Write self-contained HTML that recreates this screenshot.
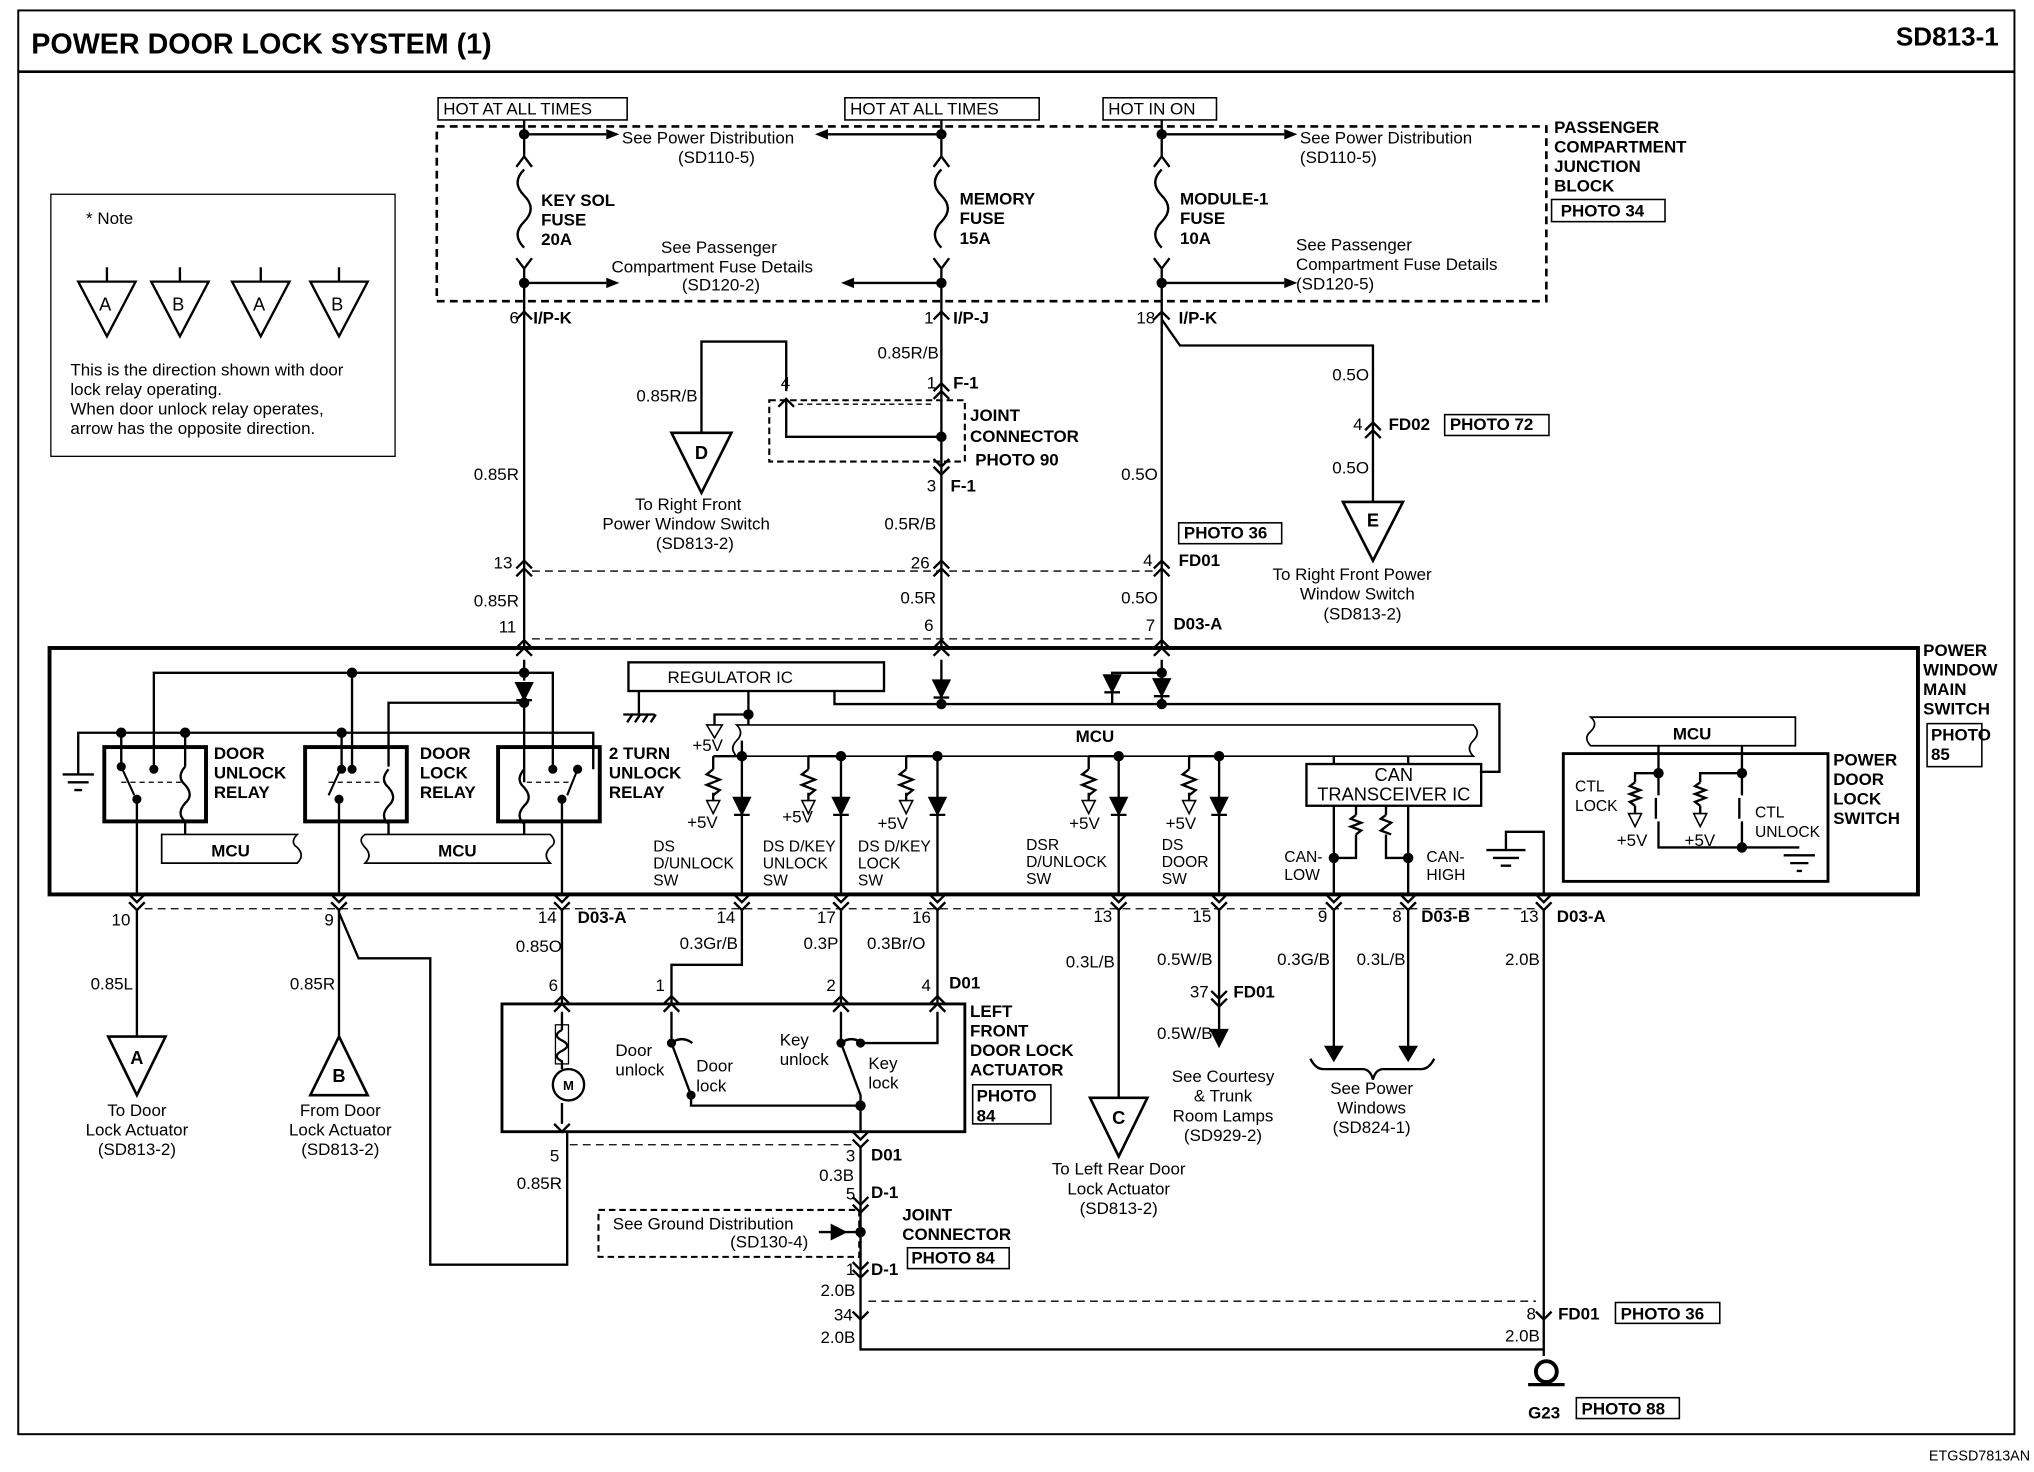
<!DOCTYPE html>
<html><head><meta charset="utf-8"><style>
html,body{margin:0;padding:0;background:#fff}
svg{display:block}
text{font-family:"Liberation Sans",sans-serif;fill:#000}
.b{font-weight:bold}
</style></head><body>
<svg width="2034" height="1472" viewBox="0 0 1560 1129" preserveAspectRatio="none" xmlns="http://www.w3.org/2000/svg">
<g fill="none" stroke="#000" stroke-width="1.8">
<rect x="14" y="8" width="1531" height="1092" stroke-width="1.5"/>
<line x1="14" y1="55" x2="1545" y2="55" stroke-width="2"/>
<rect x="39" y="149" width="264" height="201" stroke-width="1"/>
<polygon points="60,216 104,216 82,258"/><line x1="82" y1="205" x2="82" y2="216"/>
<polygon points="116,216 160,216 138,258"/><line x1="138" y1="205" x2="138" y2="216"/>
<polygon points="178,216 222,216 200,258"/><line x1="200" y1="205" x2="200" y2="216"/>
<polygon points="238,216 282,216 260,258"/><line x1="260" y1="205" x2="260" y2="216"/>
<rect x="335" y="97" width="851" height="134" stroke-dasharray="6,4" stroke-width="2"/>
<rect x="336" y="75" width="145" height="17" stroke-width="1.2"/>
<rect x="648" y="75" width="149" height="17" stroke-width="1.2"/>
<rect x="846" y="75" width="87" height="17" stroke-width="1.2"/>
<rect x="1190" y="153" width="87" height="17" stroke-width="1.2"/>
<line x1="402" y1="92" x2="402" y2="120"/><line x1="722" y1="92" x2="722" y2="120"/><line x1="891" y1="92" x2="891" y2="120"/>
<path d="M402,120 l-6,8 l6,-8 l6,8 M402,130 q-10,10 0,20 q10,10 0,20 q-10,10 0,20 M396,198 l6,8 l6,-8 M402,206 L402,497"/>
<path d="M722,120 l-6,8 l6,-8 l6,8 M722,130 q-10,10 0,20 q10,10 0,20 q-10,10 0,20 M716,198 l6,8 l6,-8 M722,206 L722,497"/>
<path d="M891,120 l-6,8 l6,-8 l6,8 M891,130 q-10,10 0,20 q10,10 0,20 q-10,10 0,20 M885,198 l6,8 l6,-8 M891,206 L891,497"/>
<line x1="402" y1="103" x2="465" y2="103"/><line x1="722" y1="103" x2="635" y2="103"/><line x1="891" y1="103" x2="985" y2="103"/>
<line x1="402" y1="217" x2="465" y2="217"/><line x1="722" y1="217" x2="655" y2="217"/><line x1="891" y1="217" x2="985" y2="217"/>
<path d="M396,245 l6,-6 l6,6 M716,245 l6,-6 l6,6 M885,245 l6,-6 l6,6"/>
<path d="M396,436 l6,-6 l6,6 M396,442 l6,-6 l6,6 M716,436 l6,-6 l6,6 M716,442 l6,-6 l6,6 M885,436 l6,-6 l6,6 M885,442 l6,-6 l6,6"/>
<path d="M396,497 l6,-6 l6,6 M396,503 l6,-6 l6,6 M716,497 l6,-6 l6,6 M716,503 l6,-6 l6,6 M885,497 l6,-6 l6,6 M885,503 l6,-6 l6,6"/>
<line x1="408" y1="438" x2="885" y2="438" stroke-dasharray="6,4" stroke-width="1"/>
<line x1="408" y1="490" x2="885" y2="490" stroke-dasharray="6,4" stroke-width="1"/>
<rect x="590" y="307" width="150" height="47" stroke-dasharray="5,3" stroke-width="1.6"/>
<path d="M538,332 L538,262 L603,262 L603,300 M597,312 l6,-6 l6,6 M603,306 L603,335 L722,335"/>
<path d="M716,300 l6,-6 l6,6 M716,306 l6,-6 l6,6 M716,352 l6,6 l6,-6 M716,358 l6,6 l6,-6"/>
<line x1="612" y1="310" x2="716" y2="310" stroke-dasharray="4,3" stroke-width="1"/>
<polygon points="515,332 561,332 538,378" stroke-width="2"/>
<path d="M891,245 L905,265 L1053,265 L1053,385 M1047,330 l6,-6 l6,6 M1047,336 l6,-6 l6,6"/>
<polygon points="1030,385 1076,385 1053,430" stroke-width="2"/>
<rect x="1108" y="318" width="80" height="16" stroke-width="1.2"/>
<rect x="904" y="401" width="79" height="16" stroke-width="1.2"/>
<rect x="38" y="497" width="1433" height="189" stroke-width="3"/>
<rect x="1478" y="555" width="42" height="33" stroke-width="1.2"/>
<rect x="482" y="508" width="196" height="22"/>
<path d="M490,530 L490,548 M478,548 L502,548 M481,554 l4,-6 M487,554 l4,-6 M493,554 l4,-6 M499,554 l4,-6"/>
<path d="M574,530 L574,548 L548,548 L548,556 M574,548 L574,556"/>
<polygon points="542,556 554,556 548,566" stroke-width="1.2"/>
<path d="M565,556 L1130,556 q6,6 0,12 q-6,6 0,12 L565,580 q-6,-6 0,-12 q6,-6 0,-12 Z" stroke-width="1.3"/>
<path d="M402,506 L402,522 M722,506 L722,540 M891,506 L891,540 M853,540 L853,516 L891,516 M640,530 L640,540 L1150,540 L1150,592 L1135,592"/>
<polygon points="396,524 408,524 402,536" fill="#000"/><line x1="396" y1="537" x2="408" y2="537"/>
<polygon points="716,522 728,522 722,534" fill="#000"/><line x1="716" y1="535" x2="728" y2="535"/>
<polygon points="847,518 859,518 853,530" fill="#000"/><line x1="847" y1="531" x2="859" y2="531"/>
<polygon points="885,521 897,521 891,533" fill="#000"/><line x1="885" y1="534" x2="897" y2="534"/>
<rect x="80" y="573" width="78" height="57" stroke-width="3"/>
<rect x="234" y="573" width="78" height="57" stroke-width="3"/>
<rect x="382" y="573" width="78" height="57" stroke-width="3"/>
<path d="M118,588 L118,516 L424,516 L424,588 M270,516 L270,588 M402,536 L402,600"/>
<path d="M60,594 L60,562 L455,562 L455,590 M93,562 L93,588 M142,562 L142,588 M262,562 L262,588"/>
<path d="M298,588 L298,539 L402,539"/>
<path d="M48,594 L72,594 M52,600 L68,600 M57,606 L63,606"/>
<path d="M142,588 q-7,8 0,14 q7,8 0,14 q-7,8 0,14 L142,640"/>
<path d="M298,590 q-7,8 0,14 q7,8 0,14 q-7,8 0,14 L298,640"/>
<path d="M402,590 q-7,8 0,14 q7,8 0,14 q-7,8 0,14 L402,640"/>
<path d="M93,588 L103,610 M262,588 L252,610 M443,590 L435,610" stroke-width="1.6"/>
<path d="M93,600 L140,600 M252,600 L296,600 M404,600 L438,600" stroke-dasharray="4,3" stroke-width="1"/>
<path d="M105,613 L105,686 M260,613 L260,686 M431,613 L431,686"/>
<path d="M124,640 L228,640 q-6,6 0,10 q6,6 0,12 L124,662 Z" stroke-width="1.3"/>
<path d="M280,640 L422,640 q6,6 0,10 q-6,6 0,12 L280,662 q6,-6 0,-12 q-6,-6 0,-10 Z" stroke-width="1.3"/>
<path d="M569,568 L569,686 M547,580 L547,590 M547,590 l-5,4 l10,4 l-10,4 l10,4 l-5,4 M547,608 L547,614"/>
<path d="M645,580 L645,686 M620,580 L620,590 M620,590 l-5,4 l10,4 l-10,4 l10,4 l-5,4 M620,608 L620,614"/>
<path d="M719,580 L719,686 M695,580 L695,590 M695,590 l-5,4 l10,4 l-10,4 l10,4 l-5,4 M695,608 L695,614"/>
<path d="M858,580 L858,686 M835,580 L835,590 M835,590 l-5,4 l10,4 l-10,4 l10,4 l-5,4 M835,608 L835,614"/>
<path d="M935,580 L935,686 M912,580 L912,590 M912,590 l-5,4 l10,4 l-10,4 l10,4 l-5,4 M912,608 L912,614"/>
<path d="M547,580 L569,580 M620,580 L645,580 M695,580 L719,580 M835,580 L858,580 M912,580 L935,580"/>
<g fill="#000">
<polygon points="563,612 575,612 569,624"/><polygon points="639,612 651,612 645,624"/><polygon points="713,612 725,612 719,624"/><polygon points="852,612 864,612 858,624"/><polygon points="929,612 941,612 935,624"/>
</g>
<path d="M563,625 L575,625 M639,625 L651,625 M713,625 L725,625 M852,625 L864,625 M929,625 L941,625"/>
<g stroke-width="1.2">
<polygon points="542,614 552,614 547,624"/><polygon points="615,614 625,614 620,624"/><polygon points="690,614 700,614 695,624"/><polygon points="830,614 840,614 835,624"/><polygon points="907,614 917,614 912,624"/>
</g>
<rect x="1002" y="586" width="134" height="32"/>
<path d="M1023,580 L1023,586 M1080,580 L1080,586"/>
<path d="M1023,618 L1023,686 M1080,618 L1080,686 M1023,658 L1040,658 L1040,640 M1063,640 L1063,658 L1080,658 M1040,618 L1040,625 M1063,618 L1063,625"/>
<path d="M1040,625 l-4,3 l8,3 l-8,3 l8,3 l-4,3 M1063,625 l-4,3 l8,3 l-4,3 l-4,3 l8,3"/>
<path d="M1155,652 L1155,638 L1184,638 L1184,686 M1140,652 L1170,652 M1145,658 L1165,658 M1151,664 L1159,664"/>
<path d="M1220,550 L1377,550 L1377,572 L1220,572 q-6,-6 0,-11 q6,-6 0,-11 Z" stroke-width="1.3"/>
<rect x="1199" y="578" width="203" height="98" stroke-width="2.2"/>
<path d="M1272,572 L1272,593 L1254,593 L1254,600 M1254,600 l-4,3 l8,3 l-8,3 l8,3 l-8,3 l4,3 M1254,618 L1254,624 M1272,593 L1272,610 M1270,612 L1270,628 M1272,630 L1272,650 L1336,650 L1336,630 M1336,572 L1336,593 L1304,593 L1304,600 M1304,600 l-4,3 l8,3 l-8,3 l8,3 l-8,3 l4,3 M1304,618 L1304,624 M1336,593 L1336,610 M1334,612 L1334,628 M1336,650 L1380,650 M1368,656 L1392,656 M1373,662 L1387,662 M1378,668 L1382,668"/>
<polygon points="1249,624 1259,624 1254,634" stroke-width="1.2"/><polygon points="1299,624 1309,624 1304,634" stroke-width="1.2"/>
<line x1="111" y1="697" x2="1178" y2="697" stroke-dasharray="6,4" stroke-width="1"/>
<path d="M99,686 l6,6 l6,-6 M254,686 l6,6 l6,-6 M425,686 l6,6 l6,-6 M563,686 l6,6 l6,-6 M639,686 l6,6 l6,-6 M713,686 l6,6 l6,-6 M852,686 l6,6 l6,-6 M929,686 l6,6 l6,-6 M1017,686 l6,6 l6,-6 M1074,686 l6,6 l6,-6 M1178,686 l6,6 l6,-6"/>
<path d="M99,692 l6,6 l6,-6 M254,692 l6,6 l6,-6 M425,692 l6,6 l6,-6 M563,692 l6,6 l6,-6 M639,692 l6,6 l6,-6 M713,692 l6,6 l6,-6 M852,692 l6,6 l6,-6 M929,692 l6,6 l6,-6 M1017,692 l6,6 l6,-6 M1074,692 l6,6 l6,-6 M1178,692 l6,6 l6,-6"/>
<path d="M105,698 L105,795 M260,698 L260,795 M260,700 L275,735 L330,735 L330,970 L435,970 L435,868 M431,698 L431,770 M569,698 L569,740 L515,740 L515,770 M645,698 L645,770 M719,698 L719,770 M858,698 L858,842 M935,698 L935,800 M1023,698 L1023,805 M1080,698 L1080,805 M1184,698 L1184,1040"/>
<polygon points="83,795 127,795 105,840" stroke-width="2"/>
<polygon points="238,840 282,840 260,795" stroke-width="2"/>
<polygon points="836,842 880,842 858,887" stroke-width="2"/>
<path d="M929,760 l6,6 l6,-6 M929,766 l6,6 l6,-6"/>
<polygon points="929,790 941,790 935,802" fill="#000"/>
<polygon points="1017,803 1029,803 1023,813" fill="#000"/><polygon points="1074,803 1086,803 1080,813" fill="#000"/>
<path d="M1005,812 q4,8 10,8 L1045,820 q6,0 8,8 q2,-8 8,-8 L1090,820 q6,0 10,-8"/>
<rect x="385" y="770" width="355" height="98" stroke-width="2.2"/>
<path d="M425,770 l6,-6 l6,6 M425,776 l6,-6 l6,6 M509,770 l6,-6 l6,6 M509,776 l6,-6 l6,6 M639,770 l6,-6 l6,6 M639,776 l6,-6 l6,6 M713,770 l6,-6 l6,6 M713,776 l6,-6 l6,6"/>
<path d="M431,776 L431,790 M431,790 q-8,4 0,8 q8,4 0,8 q-8,4 0,8 L431,820 M431,846 L431,862 M425,862 l6,6 l6,-6"/>
<rect x="426" y="786" width="10" height="30" stroke-width="1"/>
<circle cx="436" cy="832" r="12"/>
<path d="M515,776 L515,800 L530,840 L530,848 L660,848 L660,868 M645,776 L645,800 L660,840 L660,848 M719,776 L719,800 L660,800 M515,800 q8,-6 16,0 M645,800 q8,-6 16,0" />
<path d="M654,868 l6,6 l6,-6 M654,874 l6,6 l6,-6"/>
<line x1="437" y1="878" x2="654" y2="878" stroke-dasharray="6,4" stroke-width="1"/>
<path d="M660,880 L660,1035 L1184,1035"/>
<rect x="459" y="928" width="200" height="36" stroke-dasharray="5,3" stroke-width="1.6"/>
<path d="M654,918 l6,6 l6,-6 M654,924 l6,6 l6,-6 M654,968 l6,6 l6,-6 M654,974 l6,6 l6,-6"/>
<polygon points="638,940 648,945 638,950" fill="#000"/><line x1="628" y1="945" x2="660" y2="945"/>
<path d="M654,1006 l6,6 l6,-6 M1178,1006 l6,6 l6,-6"/>
<line x1="666" y1="998" x2="1178" y2="998" stroke-dasharray="6,4" stroke-width="1"/>
<rect x="746" y="832" width="60" height="30" stroke-width="1.2"/>
<rect x="696" y="957" width="78" height="16" stroke-width="1.2"/>
<rect x="1239" y="999" width="80" height="16" stroke-width="1.2"/>
<rect x="1209" y="1072" width="79" height="16" stroke-width="1.2"/>
<circle cx="1186" cy="1052" r="8" stroke-width="3"/><line x1="1172" y1="1062" x2="1200" y2="1062" stroke-width="2.5"/>
</g>
<g fill="#000">
<polygon points="465,99 475,103 465,107"/><polygon points="635,99 625,103 635,107"/><polygon points="985,99 995,103 985,107"/>
<polygon points="465,213 475,217 465,221"/><polygon points="655,213 645,217 655,221"/><polygon points="985,213 995,217 985,221"/>
<circle cx="402" cy="103" r="4"/><circle cx="722" cy="103" r="4"/><circle cx="891" cy="103" r="4"/>
<circle cx="402" cy="217" r="4"/><circle cx="722" cy="217" r="4"/><circle cx="891" cy="217" r="4"/>
<circle cx="722" cy="335" r="4"/><circle cx="270" cy="516" r="4"/><circle cx="402" cy="516" r="4"/><circle cx="402" cy="539" r="4"/>
<circle cx="93" cy="562" r="4"/><circle cx="142" cy="562" r="4"/><circle cx="262" cy="562" r="4"/>
<circle cx="93" cy="588" r="3.5"/><circle cx="118" cy="590" r="3.5"/><circle cx="105" cy="613" r="3.5"/><circle cx="262" cy="590" r="3.5"/><circle cx="270" cy="590" r="3.5"/><circle cx="260" cy="613" r="3.5"/><circle cx="424" cy="590" r="3.5"/><circle cx="443" cy="590" r="3.5"/><circle cx="431" cy="613" r="3.5"/>
<circle cx="574" cy="548" r="4"/><circle cx="569" cy="580" r="4"/><circle cx="645" cy="580" r="4"/><circle cx="719" cy="580" r="4"/><circle cx="858" cy="580" r="4"/><circle cx="935" cy="580" r="4"/>
<circle cx="722" cy="540" r="4"/><circle cx="891" cy="540" r="4"/><circle cx="891" cy="516" r="4"/>
<circle cx="1023" cy="658" r="4"/><circle cx="1080" cy="658" r="4"/>
<circle cx="1272" cy="593" r="4"/><circle cx="1336" cy="593" r="4"/><circle cx="1336" cy="650" r="4"/>
<circle cx="515" cy="800" r="3.5"/><circle cx="530" cy="840" r="3.5"/><circle cx="645" cy="800" r="3.5"/><circle cx="660" cy="800" r="3.5"/><circle cx="660" cy="848" r="4"/><circle cx="660" cy="945" r="4"/>
</g>
<text x="24" y="41" class="b" font-size="22">POWER DOOR LOCK SYSTEM (1)</text>
<text x="1533" y="35" class="b" font-size="20" text-anchor="end">SD813-1</text>
<text x="1557" y="1120" font-size="11" text-anchor="end">ETGSD7813AN</text>
<text x="436" y="836" font-size="10" class="b" text-anchor="middle">M</text>
<g font-size="13">
<text x="66" y="172">* Note</text>
<text x="76" y="238" font-size="14">A</text><text x="132" y="238" font-size="14">B</text><text x="194" y="238" font-size="14">A</text><text x="254" y="238" font-size="14">B</text>
<text x="54" y="288">This is the direction shown with door</text>
<text x="54" y="303">lock relay operating.</text>
<text x="54" y="318">When door unlock relay operates,</text>
<text x="54" y="333">arrow has the opposite direction.</text>
<text x="340" y="88">HOT AT ALL TIMES</text><text x="652" y="88">HOT AT ALL TIMES</text><text x="850" y="88">HOT IN ON</text>
<text x="477" y="110">See Power Distribution</text><text x="520" y="125">(SD110-5)</text>
<text x="997" y="110">See Power Distribution</text><text x="997" y="125">(SD110-5)</text>
<text x="507" y="194">See Passenger</text><text x="469" y="209">Compartment Fuse Details</text><text x="523" y="223">(SD120-2)</text>
<text x="994" y="192">See Passenger</text><text x="994" y="207">Compartment Fuse Details</text><text x="994" y="222">(SD120-5)</text>
</g>
<g font-size="13" class="b">
<text x="415" y="158">KEY SOL</text><text x="415" y="173">FUSE</text><text x="415" y="188">20A</text>
<text x="736" y="157">MEMORY</text><text x="736" y="172">FUSE</text><text x="736" y="187">15A</text>
<text x="905" y="157">MODULE-1</text><text x="905" y="172">FUSE</text><text x="905" y="187">10A</text>
<text x="1192" y="102">PASSENGER</text><text x="1192" y="117">COMPARTMENT</text><text x="1192" y="132">JUNCTION</text><text x="1192" y="147">BLOCK</text><text x="1197" y="166">PHOTO 34</text>
<text x="409" y="248">I/P-K</text><text x="731" y="248">I/P-J</text><text x="904" y="248">I/P-K</text>
<text x="731" y="298">F-1</text><text x="729" y="377">F-1</text>
<text x="744" y="323">JOINT</text><text x="744" y="339">CONNECTOR</text><text x="748" y="357">PHOTO 90</text>
<text x="1065" y="330">FD02</text><text x="1112" y="330">PHOTO 72</text>
<text x="908" y="413">PHOTO 36</text><text x="904" y="434">FD01</text><text x="900" y="483">D03-A</text>
<text x="1475" y="503">POWER</text><text x="1475" y="518">WINDOW</text><text x="1475" y="533">MAIN</text><text x="1475" y="548">SWITCH</text><text x="1481" y="568">PHOTO</text><text x="1481" y="583">85</text>
<text x="164" y="582">DOOR</text><text x="164" y="597">UNLOCK</text><text x="164" y="612">RELAY</text>
<text x="322" y="582">DOOR</text><text x="322" y="597">LOCK</text><text x="322" y="612">RELAY</text>
<text x="467" y="582">2 TURN</text><text x="467" y="597">UNLOCK</text><text x="467" y="612">RELAY</text>
<text x="162" y="657">MCU</text><text x="336" y="657">MCU</text><text x="825" y="569">MCU</text><text x="1283" y="567">MCU</text>
<text x="1406" y="587">POWER</text><text x="1406" y="602">DOOR</text><text x="1406" y="617">LOCK</text><text x="1406" y="632">SWITCH</text>
<text x="443" y="708">D03-A</text><text x="1090" y="707">D03-B</text><text x="1194" y="707">D03-A</text>
<text x="728" y="758">D01</text><text x="668" y="890">D01</text><text x="668" y="919">D-1</text><text x="668" y="978">D-1</text>
<text x="744" y="780">LEFT</text><text x="744" y="795">FRONT</text><text x="744" y="810">DOOR LOCK</text><text x="744" y="825">ACTUATOR</text><text x="749" y="845">PHOTO</text><text x="749" y="860">84</text>
<text x="692" y="936">JOINT</text><text x="692" y="951">CONNECTOR</text><text x="699" y="969">PHOTO 84</text>
<text x="946" y="765">FD01</text><text x="1195" y="1012">FD01</text><text x="1243" y="1012">PHOTO 36</text>
<text x="1172" y="1088">G23</text><text x="1213" y="1085">PHOTO 88</text>
</g>
<g font-size="14" class="b" text-anchor="middle">
<text x="538" y="352">D</text><text x="1053" y="404">E</text><text x="105" y="816">A</text><text x="260" y="830">B</text><text x="858" y="862">C</text>
</g>
<g font-size="13">
<text x="398" y="248" text-anchor="end">6</text><text x="716" y="248" text-anchor="end">1</text><text x="886" y="248" text-anchor="end">18</text>
<text x="720" y="275" text-anchor="end">0.85R/B</text><text x="535" y="308" text-anchor="end">0.85R/B</text>
<text x="606" y="298" text-anchor="end">4</text><text x="718" y="298" text-anchor="end">1</text><text x="718" y="377" text-anchor="end">3</text>
<text x="1050" y="292" text-anchor="end">0.5O</text><text x="1045" y="330" text-anchor="end">4</text><text x="1050" y="363" text-anchor="end">0.5O</text>
<text x="398" y="368" text-anchor="end">0.85R</text><text x="888" y="368" text-anchor="end">0.5O</text><text x="718" y="406" text-anchor="end">0.5R/B</text>
<text x="487" y="391">To Right Front</text><text x="462" y="406">Power Window Switch</text><text x="503" y="421">(SD813-2)</text>
<text x="976" y="445">To Right Front Power</text><text x="997" y="460">Window Switch</text><text x="1015" y="475">(SD813-2)</text>
<text x="393" y="436" text-anchor="end">13</text><text x="713" y="436" text-anchor="end">26</text><text x="884" y="434" text-anchor="end">4</text>
<text x="398" y="465" text-anchor="end">0.85R</text><text x="718" y="463" text-anchor="end">0.5R</text><text x="888" y="463" text-anchor="end">0.5O</text>
<text x="396" y="485" text-anchor="end">11</text><text x="716" y="484" text-anchor="end">6</text><text x="886" y="484" text-anchor="end">7</text>
<text x="512" y="524">REGULATOR IC</text>
<text x="531" y="576">+5V</text>
<text x="527" y="635">+5V</text><text x="600" y="631">+5V</text><text x="673" y="636">+5V</text><text x="820" y="636">+5V</text><text x="894" y="636">+5V</text>
<text x="501" y="653" font-size="12">DS</text><text x="501" y="666" font-size="12">D/UNLOCK</text><text x="501" y="679" font-size="12">SW</text>
<text x="585" y="653" font-size="12">DS D/KEY</text><text x="585" y="666" font-size="12">UNLOCK</text><text x="585" y="679" font-size="12">SW</text>
<text x="658" y="653" font-size="12">DS D/KEY</text><text x="658" y="666" font-size="12">LOCK</text><text x="658" y="679" font-size="12">SW</text>
<text x="787" y="652" font-size="12">DSR</text><text x="787" y="665" font-size="12">D/UNLOCK</text><text x="787" y="678" font-size="12">SW</text>
<text x="891" y="652" font-size="12">DS</text><text x="891" y="665" font-size="12">DOOR</text><text x="891" y="678" font-size="12">SW</text>
<text x="1069" y="599" text-anchor="middle" font-size="14">CAN</text><text x="1069" y="614" text-anchor="middle" font-size="14">TRANSCEIVER  IC</text>
<text x="985" y="661" font-size="12">CAN-</text><text x="985" y="675" font-size="12">LOW</text><text x="1094" y="661" font-size="12">CAN-</text><text x="1094" y="675" font-size="12">HIGH</text>
<text x="1208" y="607" font-size="12">CTL</text><text x="1208" y="622" font-size="12">LOCK</text><text x="1240" y="649">+5V</text><text x="1292" y="649">+5V</text>
<text x="1346" y="627" font-size="12">CTL</text><text x="1346" y="642" font-size="12">UNLOCK</text>
<text x="100" y="710" text-anchor="end">10</text><text x="256" y="710" text-anchor="end">9</text><text x="427" y="708" text-anchor="end">14</text><text x="564" y="708" text-anchor="end">14</text><text x="641" y="708" text-anchor="end">17</text><text x="714" y="708" text-anchor="end">16</text>
<text x="853" y="707" text-anchor="end">13</text><text x="929" y="707" text-anchor="end">15</text><text x="1018" y="707" text-anchor="end">9</text><text x="1075" y="707" text-anchor="end">8</text><text x="1180" y="707" text-anchor="end">13</text>
<text x="102" y="759" text-anchor="end">0.85L</text><text x="257" y="759" text-anchor="end">0.85R</text><text x="431" y="730" text-anchor="end">0.85O</text>
<text x="566" y="728" text-anchor="end">0.3Gr/B</text><text x="643" y="728" text-anchor="end">0.3P</text><text x="665" y="728">0.3Br/O</text>
<text x="855" y="742" text-anchor="end">0.3L/B</text><text x="930" y="740" text-anchor="end">0.5W/B</text><text x="1020" y="740" text-anchor="end">0.3G/B</text><text x="1078" y="740" text-anchor="end">0.3L/B</text><text x="1181" y="740" text-anchor="end">2.0B</text>
<text x="428" y="760" text-anchor="end">6</text><text x="510" y="760" text-anchor="end">1</text><text x="641" y="760" text-anchor="end">2</text><text x="714" y="760" text-anchor="end">4</text>
<text x="927" y="765" text-anchor="end">37</text><text x="930" y="797" text-anchor="end">0.5W/B</text>
<text x="472" y="810">Door</text><text x="472" y="825">unlock</text><text x="534" y="822">Door</text><text x="534" y="837">lock</text>
<text x="598" y="802">Key</text><text x="598" y="817">unlock</text><text x="666" y="820">Key</text><text x="666" y="835">lock</text>
<text x="105" y="856" text-anchor="middle">To Door</text><text x="105" y="871" text-anchor="middle">Lock Actuator</text><text x="105" y="886" text-anchor="middle">(SD813-2)</text>
<text x="261" y="856" text-anchor="middle">From Door</text><text x="261" y="871" text-anchor="middle">Lock Actuator</text><text x="261" y="886" text-anchor="middle">(SD813-2)</text>
<text x="858" y="901" text-anchor="middle">To Left Rear Door</text><text x="858" y="916" text-anchor="middle">Lock Actuator</text><text x="858" y="931" text-anchor="middle">(SD813-2)</text>
<text x="938" y="830" text-anchor="middle">See Courtesy</text><text x="938" y="845" text-anchor="middle">&amp; Trunk</text><text x="938" y="860" text-anchor="middle">Room Lamps</text><text x="938" y="875" text-anchor="middle">(SD929-2)</text>
<text x="1052" y="839" text-anchor="middle">See Power</text><text x="1052" y="854" text-anchor="middle">Windows</text><text x="1052" y="869" text-anchor="middle">(SD824-1)</text>
<text x="429" y="891" text-anchor="end">5</text><text x="431" y="912" text-anchor="end">0.85R</text>
<text x="656" y="891" text-anchor="end">3</text><text x="655" y="906" text-anchor="end">0.3B</text><text x="656" y="920" text-anchor="end">5</text><text x="656" y="978" text-anchor="end">1</text>
<text x="470" y="943">See Ground Distribution</text><text x="560" y="957">(SD130-4)</text>
<text x="656" y="994" text-anchor="end">2.0B</text><text x="654" y="1013" text-anchor="end">34</text><text x="656" y="1030" text-anchor="end">2.0B</text>
<text x="1178" y="1012" text-anchor="end">8</text><text x="1181" y="1029" text-anchor="end">2.0B</text>
</g>
</svg>
</body></html>
